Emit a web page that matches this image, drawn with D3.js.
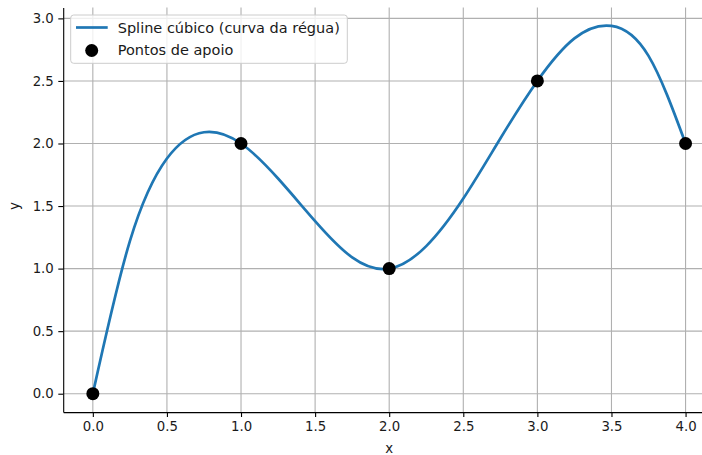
<!DOCTYPE html>
<html>
<head>
<meta charset="utf-8">
<script src="https://cdn.jsdelivr.net/npm/d3@7"></script>
<style>
  body { margin: 0; background: #fff; }
  text { font-family: "DejaVu Sans", sans-serif; }
</style>
</head>
<body>
<div id="chart"></div>
<script>
// support points
var knotX = [0, 1, 2, 3, 4]
var knotY = [0, 2, 1, 2.5, 2]

// spline curve, every 0.25
var curveX = [0, 0.25, 0.5, 0.75, 1, 1.25, 1.5, 1.75, 2, 2.25, 2.5, 2.75, 3, 3.25, 3.5, 3.75, 4]
var curveY = [0, 1.22, 1.88, 2.09, 2.00, 1.72, 1.38, 1.09, 1.00, 1.18, 1.56, 2.04, 2.50, 2.84, 2.94, 2.70, 2.00]

var xTicks = [0, 0.5, 1, 1.5, 2, 2.5, 3, 3.5, 4]
var yTicks = [0, 0.5, 1, 1.5, 2, 2.5, 3]

var seriesNames = ["Spline cúbico (curva da régua)", "Pontos de apoio"]

function drawChart(target) { //{{{
  var W = 702, H = 455
  var margin = { top: 7.5, left: 63.2 }
  var width = 652, height = 404.6

  var xScale = d3.scaleLinear()
    .domain([-0.2, 4.2])
    .range([0, width])

  var ymin = d3.min(curveY), ymax = d3.max(curveY),
      pad = (ymax - ymin) * 0.05
  var yScale = d3.scaleLinear()
    .domain([ymin - pad, ymax + pad])
    .range([height, 0])

  var svg = d3.select(target).append("svg")
    .attr("width", W)
    .attr("height", H)

  var g = svg.append("g")
    .attr("transform", "translate(" + margin.left + "," + margin.top + ")")

  // grid
  g.append("g").selectAll("line")
    .data(xTicks)
    .enter().append("line")
      .attr("x1", d => xScale(d)).attr("x2", d => xScale(d))
      .attr("y1", 0).attr("y2", height)
      .attr("stroke", "#b0b0b0").attr("stroke-width", 1.1)
  g.append("g").selectAll("line")
    .data(yTicks)
    .enter().append("line")
      .attr("y1", d => yScale(d)).attr("y2", d => yScale(d))
      .attr("x1", 0).attr("x2", width)
      .attr("stroke", "#b0b0b0").attr("stroke-width", 1.1)

  // axes
  var xAxis = g.append("g")
    .attr("transform", "translate(0," + height + ")")
    .call(d3.axisBottom(xScale).tickValues(xTicks).tickFormat(d3.format(".1f"))
      .tickSizeInner(4.9).tickSizeOuter(0).tickPadding(4.5))
  var yAxis = g.append("g")
    .call(d3.axisLeft(yScale).tickValues(yTicks).tickFormat(d3.format(".1f"))
      .tickSizeInner(4.9).tickSizeOuter(0).tickPadding(4.5))
  ;[xAxis, yAxis].forEach(a => {
    a.select(".domain").attr("stroke", "#000").attr("stroke-width", 1.1)
    a.selectAll(".tick line").attr("stroke", "#000").attr("stroke-width", 1.1)
    a.selectAll(".tick text").attr("fill", "#1a1a1a")
      .style("font-size", "13.3px").style("font-family", "DejaVu Sans")
  })

  g.append("text")
    .attr("x", xScale(2))
    .attr("y", height + 40.5)
    .attr("text-anchor", "middle")
    .style("font-size", "13.3px")
    .attr("fill", "#1a1a1a")
    .text("x")
  g.append("text")
    .attr("transform", "translate(" + (-44.7) + "," + yScale(1.5) + ") rotate(-90)")
    .attr("text-anchor", "middle")
    .style("font-size", "13.3px")
    .attr("fill", "#1a1a1a")
    .text("y")

  // spline
  var line = d3.line()
    .x((d, i) => xScale(curveX[i]))
    .y(d => yScale(d))
    .curve(d3.curveNatural)
  g.append("path")
    .datum(curveY)
    .attr("d", line)
    .attr("fill", "none")
    .attr("stroke", "#1f77b4")
    .attr("stroke-width", 2.7)

  // support points
  g.selectAll("circle.pt")
    .data(knotY)
    .enter().append("circle")
      .attr("class", "pt")
      .attr("cx", (d, i) => xScale(knotX[i]))
      .attr("cy", d => yScale(d))
      .attr("r", 6.5)
      .attr("fill", "#000")

  // legend
  var leg = svg.append("g").attr("transform", "translate(70.7,15)")
  leg.append("rect")
    .attr("width", 276.6).attr("height", 48.3)
    .attr("rx", 3).attr("ry", 3)
    .attr("fill", "#fff").attr("fill-opacity", 0.8)
    .attr("stroke", "#cccccc").attr("stroke-width", 1)
  leg.append("line")
    .attr("x1", 5.3).attr("x2", 37)
    .attr("y1", 12.5).attr("y2", 12.5)
    .attr("stroke", "#1f77b4").attr("stroke-width", 2.7)
  leg.append("circle")
    .attr("cx", 21).attr("cy", 35.5).attr("r", 6.5)
    .attr("fill", "#000")
  leg.selectAll("text")
    .data(seriesNames)
    .enter().append("text")
      .attr("x", 47)
      .attr("y", (d, i) => 17.6 + i * 22.2)
      .style("font-size", "14.5px")
      .attr("fill", "#1a1a1a")
      .text(d => d)
} //}}}

drawChart("#chart")
</script>
</body>
</html>
